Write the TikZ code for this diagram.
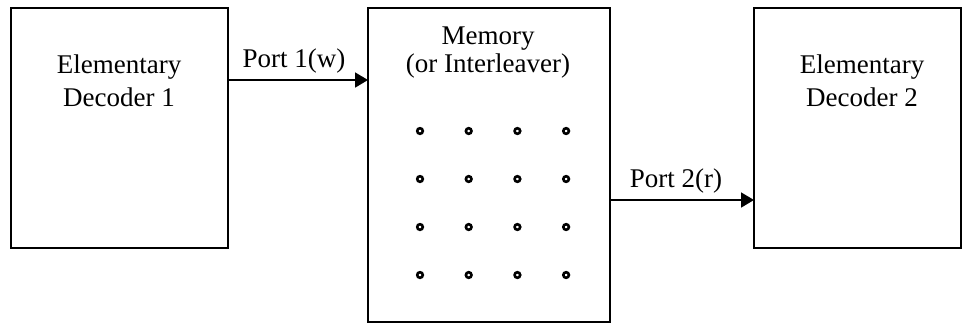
\documentclass[tikz,border=0pt]{standalone}
\usepackage{fontspec}
\setmainfont{Liberation Serif}
\usetikzlibrary{arrows.meta}

\tikzset{
  block/.style={draw, line width=1.2pt, inner sep=0pt, outer sep=0pt},
  blocktext/.style={align=center, font=\fontsize{13.5}{16.5}\selectfont},
  port/.style={line width=0.9pt, -{Triangle[length=6.5pt, width=7.5pt]}},
  cell/.style={line width=1.3pt}
}

\begin{document}
\begin{tikzpicture}[x=0.5pt, y=-0.5pt]
\useasboundingbox (0,0) rectangle (963,323);
% the three blocks
\node[block, minimum width=108.5pt, minimum height=120pt] (dec1) at (119.5,128) {};
\node[block, minimum width=121pt, minimum height=157pt] (mem) at (489,165) {};
\node[block, minimum width=103.5pt, minimum height=120pt] (dec2) at (857.5,128) {};
\node[blocktext] (dec1txt) at (119,81) {Elementary\\Decoder 1};
\node[blocktext, font=\fontsize{13.5}{14}\selectfont] (memtxt) at (488,53) {Memory\\(or Interleaver)};
\node[blocktext] (dec2txt) at (862,81) {Elementary\\Decoder 2};
% memory cells
\foreach \i in {0,...,3}
  \foreach \j in {0,...,3}
    \draw[cell] (420+48.7*\i,131+48*\j) circle (2.8);
% write and read ports
\coordinate (w) at (298,80);
\coordinate (r) at (682,200);
\draw[port] (w -| dec1.east) -- node[blocktext, above, xshift=-2pt, inner sep=3pt] (wlab) {Port 1(w)} (w -| mem.west);
\draw[port] (r -| mem.east) -- node[blocktext, above, xshift=-3pt, inner sep=3pt] (rlab) {Port 2(r)} (r -| dec2.west);
\end{tikzpicture}
\end{document}
